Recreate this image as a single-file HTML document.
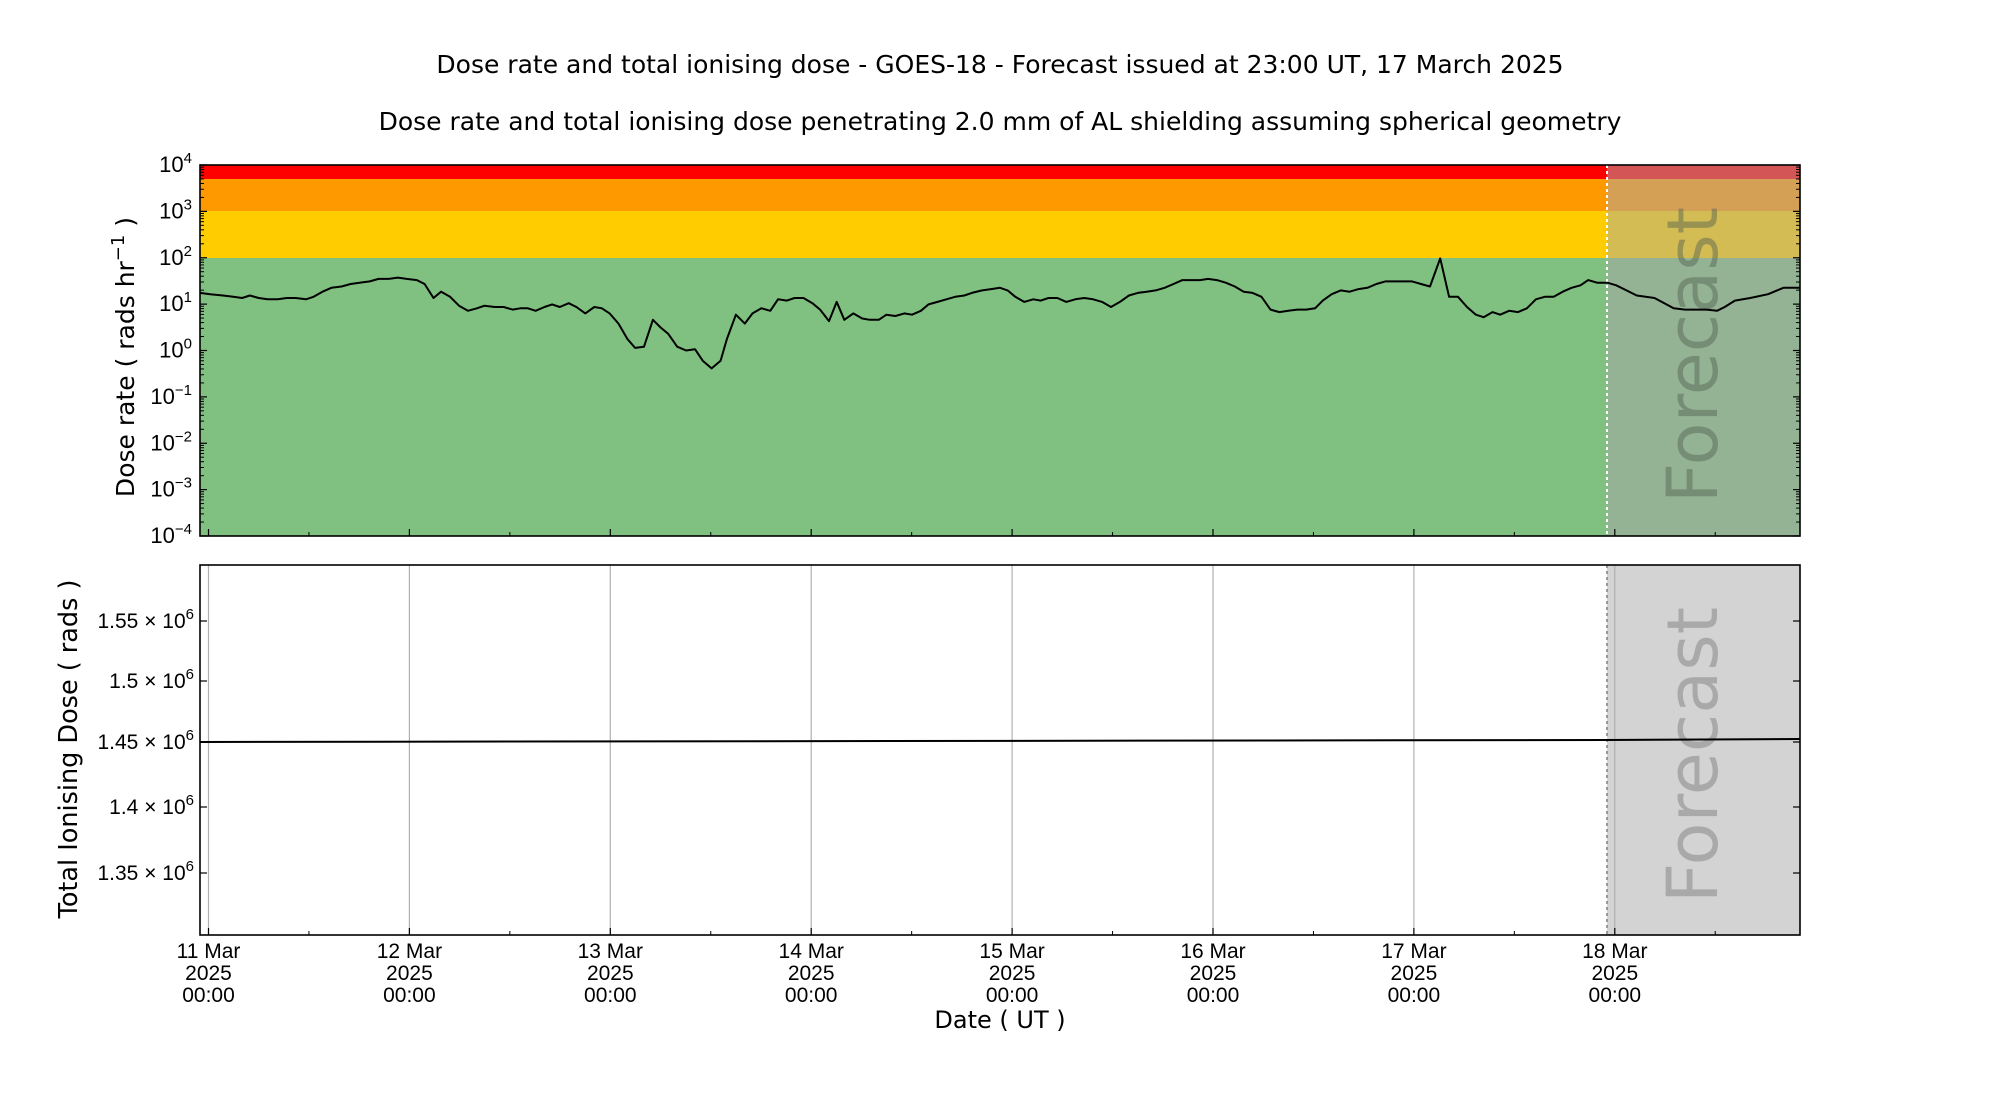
<!DOCTYPE html>
<html><head><meta charset="utf-8"><style>
html,body{margin:0;padding:0;background:#fff;}
svg{display:block;font-family:"DejaVu Sans","Liberation Sans",sans-serif;}
.tk{font-family:"Liberation Sans","DejaVu Sans",sans-serif;}
</style></head><body>
<svg id="s" width="2000" height="1100" viewBox="0 0 2000 1100" xmlns="http://www.w3.org/2000/svg">
<text x="1000" y="73" font-size="25" text-anchor="middle">Dose rate and total ionising dose - GOES-18 - Forecast issued at 23:00 UT, 17 March 2025</text>
<text x="1000" y="130" font-size="25" text-anchor="middle">Dose rate and total ionising dose penetrating 2.0 mm of AL shielding assuming spherical geometry</text>
<rect x="200" y="165" width="1407" height="14" fill="#ff0000"/>
<rect x="200" y="179" width="1407" height="32" fill="#ff9900"/>
<rect x="200" y="211" width="1407" height="47" fill="#ffcc00"/>
<rect x="200" y="258" width="1407" height="278" fill="#80c080"/>
<rect x="1607" y="165" width="193" height="14" fill="#d45555"/>
<rect x="1607" y="179" width="193" height="32" fill="#d4a055"/>
<rect x="1607" y="211" width="193" height="47" fill="#d4bc55"/>
<rect x="1607" y="258" width="193" height="278" fill="#94b394"/>
<line x1="1607" y1="165" x2="1607" y2="536" stroke="#fff" stroke-width="2" stroke-dasharray="3,3"/>
<text transform="translate(1717,355) rotate(-90)" font-size="70" text-anchor="middle" fill="#506050" fill-opacity="0.45">Forecast</text>
<g id="topline"></g>
<rect x="1607" y="565" width="193" height="370" fill="#d3d3d3"/>
<g id="grid"></g>
<line x1="1607" y1="565" x2="1607" y2="935" stroke="#999" stroke-width="2" stroke-dasharray="3,3"/>
<text transform="translate(1717,755) rotate(-90)" font-size="70" text-anchor="middle" fill="#808080" fill-opacity="0.5">Forecast</text>
<polyline points="200,742 1607,740 1800,739" fill="none" stroke="#000" stroke-width="2"/>
<g id="ticks" class="tk"></g>
<rect x="200" y="165" width="1600" height="371" fill="none" stroke="#000" stroke-width="1.6"/>
<rect x="200" y="565" width="1600" height="370" fill="none" stroke="#000" stroke-width="1.6"/>
<text transform="translate(134,357) rotate(-90)" font-size="25" text-anchor="middle">Dose rate ( rads hr<tspan dy="-10" font-size="18">−1</tspan><tspan dy="10"> )</tspan></text>
<text transform="translate(77,749) rotate(-90)" font-size="25.5" text-anchor="middle">Total Ionising Dose ( rads )</text>
<text x="1000" y="1028" font-size="24" text-anchor="middle">Date ( UT )</text>
</svg>
<script>
var NS="http://www.w3.org/2000/svg";
function el(p,t,a,txt){var e=document.createElementNS(NS,t);for(var k in a)e.setAttribute(k,a[k]);if(txt!==undefined)e.textContent=txt;document.getElementById(p).appendChild(e);return e;}
var d=[[157,229],[165,230],[175,231],[183,232],[190,233],[196,231],[203,233],[210,234],[218,234],[225,233],[232,233],[240,234],[246,232],[253,228],[260,225],[268,224],[275,222],[282,221],[290,220],[297,218],[305,218],[312,217],[319,218],[327,219],[333,222],[340,233],[346,228],[353,232],[360,239],[367,243],[374,241],[380,239],[388,240],[395,240],[402,242],[408,241],[414,241],[420,243],[427,240],[433,238],[439,240],[446,237],[452,240],[459,245],[466,240],[472,241],[478,245],[485,253],[492,265],[498,272],[505,271],[512,250],[518,256],[524,261],[531,271],[538,274],[545,273],[551,282],[558,288],[565,282],[570,265],[577,246],[584,253],[590,245],[597,241],[604,243],[610,234],[617,235],[623,233],[630,233],[637,237],[643,242],[650,251],[656,236],[662,250],[669,245],[676,249],[682,250],[689,250],[695,246],[702,247],[709,245],[715,246],[722,243],[728,238],[735,236],[742,234],[749,232],[756,231],[762,229],[770,227],[777,226],[784,225],[790,227],[796,232],[803,236],[810,234],[816,235],[822,233],[829,233],[836,236],[843,234],[850,233],[857,234],[864,236],[871,240],[878,236],[885,231],[892,229],[899,228],[906,227],[913,225],[920,222],[927,219],[934,219],[941,219],[947,218],[954,219],[961,221],[968,224],[975,228],[982,229],[989,232],[996,242],[1003,244],[1010,243],[1017,242],[1024,242],[1031,241],[1037,235],[1044,230],[1051,227],[1058,228],[1065,226],[1072,225],[1079,222],[1086,220],[1093,220],[1100,220],[1107,220],[1114,222],[1121,224],[1129,202],[1136,232],[1143,232],[1150,240],[1157,246],[1163,248],[1170,244],[1176,246],[1183,243],[1190,244],[1197,241],[1204,234],[1211,232],[1218,232],[1225,228],[1232,225],[1239,223],[1245,219],[1252,221],[1260,221],[1267,223],[1275,227],[1283,231],[1297,233],[1312,241],[1321,242],[1338,242],[1346,243],[1352,240],[1360,235],[1372,233],[1386,230],[1398,225],[1411,225]];
var pts=d.map(function(p){return (200+(p[0]-157)*1.2759).toFixed(1)+","+(165+(p[1]-129)*1.2793).toFixed(1);}).join(" ");
el("topline","polyline",{points:pts,fill:"none",stroke:"#000","stroke-width":2,"stroke-linejoin":"round"});
var day=200.9,x0=208.5;
for(var i=0;i<8;i++){var x=x0+i*day;
 el("grid","line",{x1:x,y1:565,x2:x,y2:935,stroke:"#b0b0b0","stroke-width":1.2});
 var lab=(11+i)+" Mar";
 el("ticks","text",{x:x,y:958,"font-size":21,"text-anchor":"middle"},lab);
 el("ticks","text",{x:x,y:980,"font-size":21,"text-anchor":"middle"},"2025");
 el("ticks","text",{x:x,y:1002,"font-size":21,"text-anchor":"middle"},"00:00");
 [536,935].forEach(function(yb){el("ticks","line",{x1:x,y1:yb,x2:x,y2:yb-7,stroke:"#000","stroke-width":1.2});});
 var xm=x+day/2; if(xm<1800)[536,935].forEach(function(yb){el("ticks","line",{x1:xm,y1:yb,x2:xm,y2:yb-4,stroke:"#000","stroke-width":1});});
}
var dec=371/8;
var sup={"4":"4","3":"3","2":"2","1":"1","0":"0","-1":"−1","-2":"−2","-3":"−3","-4":"−4"};
for(var e=4;e>=-4;e--){var y=165+(4-e)*dec;
 [[200,7],[1800,-7]].forEach(function(a){el("ticks","line",{x1:a[0],y1:y,x2:a[0]+a[1],y2:y,stroke:"#000","stroke-width":1.2});});
 var t=el("ticks","text",{x:192,y:y+7,"font-size":22,"text-anchor":"end"},"10");
 var ts=document.createElementNS(NS,"tspan");ts.setAttribute("dy","-9");ts.setAttribute("font-size","15");ts.textContent=sup[String(e)];t.appendChild(ts);
 if(e>-4)for(var m=2;m<10;m++){var ym=y+dec-Math.log10(m)*dec;
  [[200,4],[1800,-4]].forEach(function(a){el("ticks","line",{x1:a[0],y1:ym,x2:a[0]+a[1],y2:ym,stroke:"#000","stroke-width":1});});}
}
var by=[["1.55",621],["1.5",681],["1.45",742],["1.4",807],["1.35",873]];
by.forEach(function(b){
 [[200,7],[1800,-7]].forEach(function(a){el("ticks","line",{x1:a[0],y1:b[1],x2:a[0]+a[1],y2:b[1],stroke:"#000","stroke-width":1.2});});
 var t=el("ticks","text",{x:194,y:b[1]+7,"font-size":21,"text-anchor":"end"},b[0]+" × 10");
 var ts=document.createElementNS(NS,"tspan");ts.setAttribute("dy","-9");ts.setAttribute("font-size","15");ts.textContent="6";t.appendChild(ts);
});
</script>
</body></html>
